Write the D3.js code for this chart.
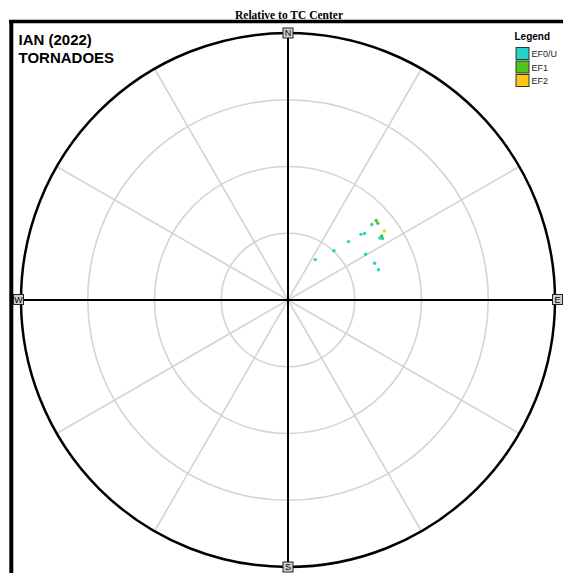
<!DOCTYPE html>
<html>
<head>
<meta charset="utf-8">
<script src="https://cdn.jsdelivr.net/npm/d3@7"></script>
<style>
  html, body { margin: 0; padding: 0; background: #fff; }
  svg { display: block; }
</style>
</head>
<body>
<svg id="chart" width="563" height="573"></svg>
<script>
// Tornado reports relative to the tropical cyclone centre
const categories = ["EF0/U", "EF1", "EF2"];
const categoryColors = ["#22d3cb", "#4fc41c", "#ffc814"];

// Distance from centre (km) and bearing (degrees clockwise from north) per report
const ef0Dist    = [73, 101, 126, 147, 152, 169, 166, 169, 135, 141, 143];
const ef0Bearing = [34, 43, 46, 48, 49, 48, 56, 57, 59.5, 67, 71.5];
const ef1Dist    = [178, 177, 170];
const ef1Bearing = [48, 49.5, 55.7];
const ef2Dist    = [177.5];
const ef2Bearing = [54.4];

const ringValues = [100, 200, 300];
const maxRange = 400;
const compassLabels = ["N", "E", "S", "W"];

const svg = d3.select("#chart");
const W = 563, H = 573;
const cx = 288, cy = 300, R = 267;

const r = d3.scaleLinear().domain([0, maxRange]).range([0, R]);
const toXY = (dist, bearing) => {
  const a = bearing * Math.PI / 180;
  return [cx + r(dist) * Math.sin(a), cy - r(dist) * Math.cos(a)];
};

// frame lines
svg.append("line").attr("x1", 9).attr("x2", W).attr("y1", 21.5).attr("y2", 21.5)
  .attr("stroke", "#000").attr("stroke-width", 3.5);
svg.append("line").attr("x1", 11.3).attr("x2", 11.3).attr("y1", 20).attr("y2", H)
  .attr("stroke", "#000").attr("stroke-width", 4);

// title
svg.append("text").attr("x", 289).attr("y", 19)
  .attr("text-anchor", "middle")
  .attr("font-family", "'Liberation Serif', 'Times New Roman', serif")
  .attr("font-weight", "bold").attr("font-size", 11.5)
  .text("Relative to TC Center");

const g = svg.append("g");

// grey range rings
g.selectAll("circle.ring").data(ringValues).join("circle")
  .attr("class", "ring")
  .attr("cx", cx).attr("cy", cy).attr("r", d => r(d))
  .attr("fill", "none").attr("stroke", "#d4d4d4").attr("stroke-width", 1.6);

// grey spokes every 30 degrees
const spokes = d3.range(0, 360, 30).filter(d => d % 90 !== 0);
g.selectAll("line.spoke").data(spokes).join("line")
  .attr("class", "spoke")
  .attr("x1", cx).attr("y1", cy)
  .attr("x2", d => toXY(maxRange, d)[0])
  .attr("y2", d => toXY(maxRange, d)[1])
  .attr("stroke", "#d4d4d4").attr("stroke-width", 1.6);

// cardinal axes
g.append("line").attr("x1", cx).attr("x2", cx).attr("y1", cy - R).attr("y2", cy + R)
  .attr("stroke", "#000").attr("stroke-width", 2);
g.append("line").attr("x1", cx - R).attr("x2", cx + R).attr("y1", cy).attr("y2", cy)
  .attr("stroke", "#000").attr("stroke-width", 2);

// outer boundary
g.append("circle").attr("cx", cx).attr("cy", cy).attr("r", R)
  .attr("fill", "none").attr("stroke", "#000").attr("stroke-width", 2.5);

// tornado points
const series = [
  { dist: ef0Dist, bearing: ef0Bearing, color: categoryColors[0] },
  { dist: ef1Dist, bearing: ef1Bearing, color: categoryColors[1] },
  { dist: ef2Dist, bearing: ef2Bearing, color: categoryColors[2] }
];
series.forEach(s => {
  const pts = s.dist.map((d, i) => toXY(d, s.bearing[i]));
  g.selectAll(null).data(pts).join("circle")
    .attr("cx", d => d[0]).attr("cy", d => d[1]).attr("r", 1.7)
    .attr("fill", s.color);
});

// compass label boxes (E/W sit slightly outside the rim)
compassLabels.forEach((lab, i) => {
  const horizontal = i % 2 === 1;
  const a = i * 90 * Math.PI / 180;
  const rr = R + (horizontal ? 2.5 : 0);
  const lx = cx + rr * Math.sin(a);
  const ly = cy - rr * Math.cos(a) + (horizontal ? -0.5 : 0);
  g.append("rect").attr("x", lx - 5).attr("y", ly - 5).attr("width", 10).attr("height", 10)
    .attr("fill", "#cfcfcf").attr("stroke", "#222").attr("stroke-width", 1);
  g.append("text").attr("x", lx).attr("y", ly + 3.3)
    .attr("text-anchor", "middle")
    .attr("font-family", "'Liberation Sans', Arial, sans-serif")
    .attr("font-size", 9).attr("fill", "#000")
    .text(lab);
});

// storm name
const nameG = svg.append("g")
  .attr("font-family", "'Liberation Sans', Arial, sans-serif")
  .attr("font-weight", "bold").attr("font-size", 15);
nameG.append("text").attr("x", 18.5).attr("y", 44.5).text("IAN (2022)");
nameG.append("text").attr("x", 18.5).attr("y", 63).text("TORNADOES");

// legend
const leg = svg.append("g").attr("font-family", "'Liberation Sans', Arial, sans-serif");
leg.append("text").attr("x", 514.5).attr("y", 39.5)
  .attr("font-weight", "bold").attr("font-size", 10).text("Legend");
categories.forEach((c, i) => {
  const y0 = 47.5 + i * 13.5;
  leg.append("rect").attr("x", 516).attr("y", y0).attr("width", 13).attr("height", 12)
    .attr("fill", categoryColors[i]).attr("stroke", "#333").attr("stroke-width", 1);
  leg.append("text").attr("x", 531.5).attr("y", y0 + 9.5)
    .attr("font-size", 9).attr("fill", "#222").text(c);
});
</script>
</body>
</html>
